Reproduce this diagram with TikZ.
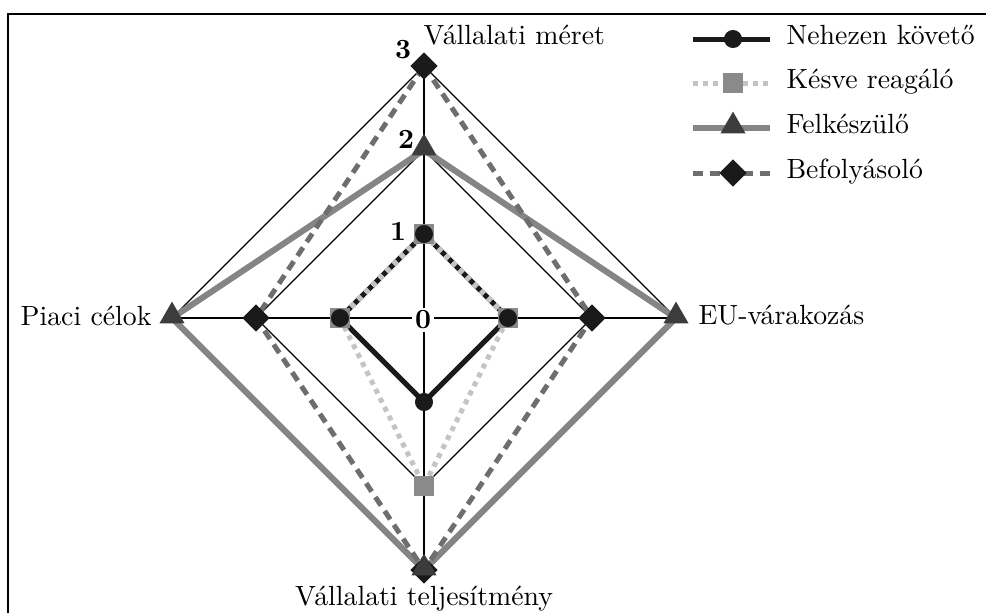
\documentclass[tikz,border=0pt]{standalone}
\usepackage{fontspec}
\usetikzlibrary{shapes.geometric}
\definecolor{cblack}{HTML}{1A1A1A}
\definecolor{clight}{HTML}{C4C4C4}
\definecolor{csq}{HTML}{8A8A8A}
\definecolor{cfel}{HTML}{858585}
\definecolor{ctri}{HTML}{3C3C3C}
\definecolor{cbef}{HTML}{6E6E6E}
\tikzset{
  framestyle/.style={draw=black,line width=0.55pt},
  gridline/.style={draw=black,line width=0.45pt},
  nehez/.style={draw=cblack,line width=1.8pt},
  kesve/.style={draw=clight,line width=1.8pt,dash pattern=on 1.8pt off 1.8pt},
  felk/.style={draw=cfel,line width=2.2pt},
  befoly/.style={draw=cbef,line width=1.8pt,dash pattern=on 3.6pt off 2.4pt},
  circmark/.style={circle,fill=cblack,inner sep=0pt,minimum size=6.5pt},
  sqmark/.style={rectangle,fill=csq,inner sep=0pt,minimum size=7pt},
  trimark/.style={regular polygon,regular polygon sides=3,fill=ctri,inner sep=0pt,minimum size=10.4pt,yshift=0.7pt},
  diamark/.style={diamond,fill=cblack,inner sep=0pt,minimum size=10pt},
  ticklab/.style={font=\bfseries,inner sep=0pt},
  axlab/.style={inner sep=0pt},
  leglab/.style={anchor=mid west,inner sep=0pt}
}
\begin{document}
\begin{tikzpicture}[x=0.36pt,y=-0.36pt]
\useasboundingbox (0,0) rectangle (986,612);
\draw[framestyle] (8,14) rectangle (1010,640);
\coordinate (O) at (424,318);
\foreach \k in {1,2,3}{
  \coordinate (T\k) at (424,318-84*\k);
  \coordinate (R\k) at (424+84*\k,318);
  \coordinate (B\k) at (424,318+84*\k);
  \coordinate (L\k) at (424-84*\k,318);
}
% grid
\foreach \k in {1,2,3}{
  \draw[gridline] (T\k) -- (R\k) -- (B\k) -- (L\k) -- cycle;
}
\draw[gridline] (T3) -- (B3);
\draw[gridline] (L3) -- (R3);
% series lines
\draw[felk] (T2) -- (R3) -- (B3) -- (L3) -- cycle;
\draw[befoly] (T3) -- (R2) -- (B3) -- (L2) -- cycle;
\draw[nehez] (T1) -- (R1) -- (B1) -- (L1) -- cycle;
\draw[kesve] (T1) -- (R1) -- (B2) -- (L1) -- cycle;
% markers
\node[diamark] (dT) at (T3) {};
\node[diamark] (dR) at (R2) {};
\node[diamark] (dB) at (B3) {};
\node[diamark] (dL) at (L2) {};
\node[trimark] (tT) at (T2) {};
\node[trimark] (tR) at (R3) {};
\node[trimark] (tB) at (B3) {};
\node[trimark] (tL) at (L3) {};
\node[sqmark] (sT) at (T1) {};
\node[sqmark] (sR) at (R1) {};
\node[sqmark] (sB) at (B2) {};
\node[sqmark] (sL) at (L1) {};
\node[circmark] (cT) at (T1) {};
\node[circmark] (cR) at (R1) {};
\node[circmark] (cB) at (B1) {};
\node[circmark] (cL) at (L1) {};
% tick labels
\node[ticklab] (n3) at (403,50) {3};
\node[ticklab] (n2) at (406,139) {2};
\node[ticklab] (n1) at (398,231) {1};
\node[ticklab,fill=white,inner sep=1pt] (n0) at (423,320) {0};
% axis labels
\node[axlab,anchor=base west] (lt) at (423,44) {Vállalati méret};
\node[axlab,anchor=base west] (lr) at (698,324) {EU-várakozás};
\node[axlab,anchor=base east] (ll) at (152,325) {Piaci célok};
\node[axlab,anchor=base] (lb) at (424,605) {Vállalati teljesítmény};
% legend
\foreach \y/\nm in {39/A,83/B,128/C,173/D}{
  \coordinate (leg\nm start) at (693,\y);
  \coordinate (leg\nm end) at (770,\y);
  \coordinate (leg\nm mid) at (733,\y);
  \coordinate (leg\nm text) at (786,\y);
}
\draw[nehez] (legAstart) -- (legAend);
\node[circmark] (mkA) at (legAmid) {};
\node[leglab] (txA) at (legAtext) {Nehezen követő};
\draw[kesve] (legBstart) -- (legBend);
\node[sqmark] (mkB) at (legBmid) {};
\node[leglab] (txB) at (legBtext) {Késve reagáló};
\draw[felk] (legCstart) -- (legCend);
\node[trimark] (mkC) at (legCmid) {};
\node[leglab] (txC) at (legCtext) {Felkészülő};
\draw[befoly] (legDstart) -- (legDend);
\node[diamark] (mkD) at (legDmid) {};
\node[leglab] (txD) at (legDtext) {Befolyásoló};
\end{tikzpicture}
\end{document}
